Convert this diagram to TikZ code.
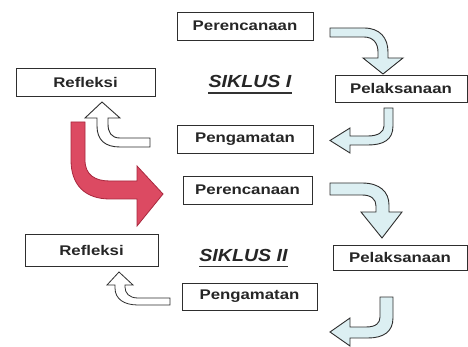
\documentclass[tikz,border=0pt]{standalone}
\usepackage{fontspec}
\setmainfont{Liberation Sans}
\newfontfamily\boxfont{Liberation Sans}[FakeStretch=1.2]
\newfontfamily\titlefont{Liberation Sans}[FakeStretch=1.12]
\definecolor{edge}{HTML}{2E2E2E}
\definecolor{paleblue}{HTML}{DCEFF2}
\definecolor{redfill}{HTML}{DC4A62}
\definecolor{rededge}{HTML}{A8283E}
\begin{document}
\begin{tikzpicture}[x=1pt,y=-1pt,
  stagebox/.style={draw=edge,line width=0.9pt,fill=white,inner sep=0pt,
    font=\boxfont\bfseries\fontsize{14}{16}\selectfont,text=black!85},
  cycletitle/.style={inner sep=0pt,font=\titlefont\bfseries\itshape\fontsize{17.5}{19}\selectfont,text=black!85},
  bluearrow/.style={draw=edge,line width=0.9pt,fill=paleblue,line join=miter},
  whitearrow/.style={draw=edge,line width=0.9pt,fill=white,line join=miter},
  redarrow/.style={draw=rededge,line width=0.8pt,fill=redfill,line join=miter},
  underl/.style={draw=black!80,line width=1.3pt}]
\useasboundingbox (0,0) rectangle (468,347);

% ---- Cycle I ----
\node[stagebox,minimum width=136pt,minimum height=28pt] (p1) at (245,26) {Perencanaan};
\node[stagebox,minimum width=139pt,minimum height=28pt] (r1) at (85.5,82) {Refleksi};
\node[stagebox,minimum width=132pt,minimum height=27pt] (l1) at (401,88.5) {Pelaksanaan};
\node[stagebox,minimum width=136pt,minimum height=28pt] (g1) at (245,139) {Pengamatan};
\node[cycletitle] (s1) at (250,81.5) {SIKLUS I};
\draw[underl] ([yshift=-5pt]s1.south west) -- ([yshift=-5pt]s1.south east);

% ---- Cycle II ----
\node[stagebox,minimum width=129pt,minimum height=28pt] (p2) at (247.5,190) {Perencanaan};
\node[stagebox,minimum width=133pt,minimum height=32pt] (r2) at (91.5,250) {Refleksi};
\node[stagebox,minimum width=134pt,minimum height=25pt] (l2) at (400,257.5) {Pelaksanaan};
\node[stagebox,minimum width=135pt,minimum height=27pt] (g2) at (249.5,296.5) {Pengamatan};
\node[cycletitle] (s2) at (243.5,255) {SIKLUS II};
\draw[underl] ([yshift=-5pt]s2.south west) -- ([yshift=-5pt]s2.south east);

% ---- arrows, cycle I ----
% Perencanaan -> Pelaksanaan
\draw[bluearrow] (330,28) -- (364,28) .. controls (380,28) and (388,38) .. (388,52)
  -- (388,58) -- (403,58) -- (383,74) -- (363,58) -- (378,58) -- (378,52)
  .. controls (378,43) and (373,37) .. (364,37) -- (330,37) -- cycle;
% Pelaksanaan -> Pengamatan
\draw[bluearrow] (384,108) -- (393,108) -- (393,126) .. controls (393,140) and (383,145) .. (368,145)
  -- (350,145) -- (350,153) -- (330,140.5) -- (350,128) -- (350,136) -- (368,136)
  .. controls (378,136) and (384,132) .. (384,126) -- cycle;
% Pengamatan -> Refleksi
\draw[whitearrow] (150,138) -- (120,138) .. controls (111,138) and (108,132) .. (108,124)
  -- (108,118) -- (120,118) -- (102,102) -- (85,118) -- (97,118) -- (97,126)
  .. controls (97,140) and (105,147) .. (120,147) -- (150,147) -- cycle;

% ---- red arrow: Refleksi I -> Perencanaan II ----
\draw[redarrow] (71,122) -- (85,122) -- (85,160) .. controls (85,175) and (95,181) .. (110,181)
  -- (137,181) -- (137,166) -- (163,194) -- (137,226) -- (137,199) -- (110,199)
  .. controls (85,199) and (71,185) .. (71,160) -- cycle;

% ---- arrows, cycle II ----
\draw[bluearrow] (330,183) -- (362,183) .. controls (380,183) and (389,192) .. (389,205)
  -- (389,212) -- (402,212) -- (382,238) -- (361,212) -- (376,212) -- (376,206)
  .. controls (376,199) and (371,195) .. (362,195) -- (330,195) -- cycle;
\draw[bluearrow] (380,297) -- (393,297) -- (393,318) .. controls (393,332) and (383,338) .. (368,338)
  -- (350,338) -- (350,346) -- (330,332) -- (350,318) -- (350,327) -- (366,327)
  .. controls (376,327) and (380,323) .. (380,317) -- cycle;
\draw[whitearrow,line width=0.8pt] (170,298) -- (138,298) .. controls (129,298) and (125,293) .. (125,287)
  -- (125,285) -- (133,285) -- (119,272) -- (107,285) -- (115,285) -- (115,288)
  .. controls (115,299) and (124,305) .. (138,305) -- (170,305) -- cycle;
\end{tikzpicture}
\end{document}
